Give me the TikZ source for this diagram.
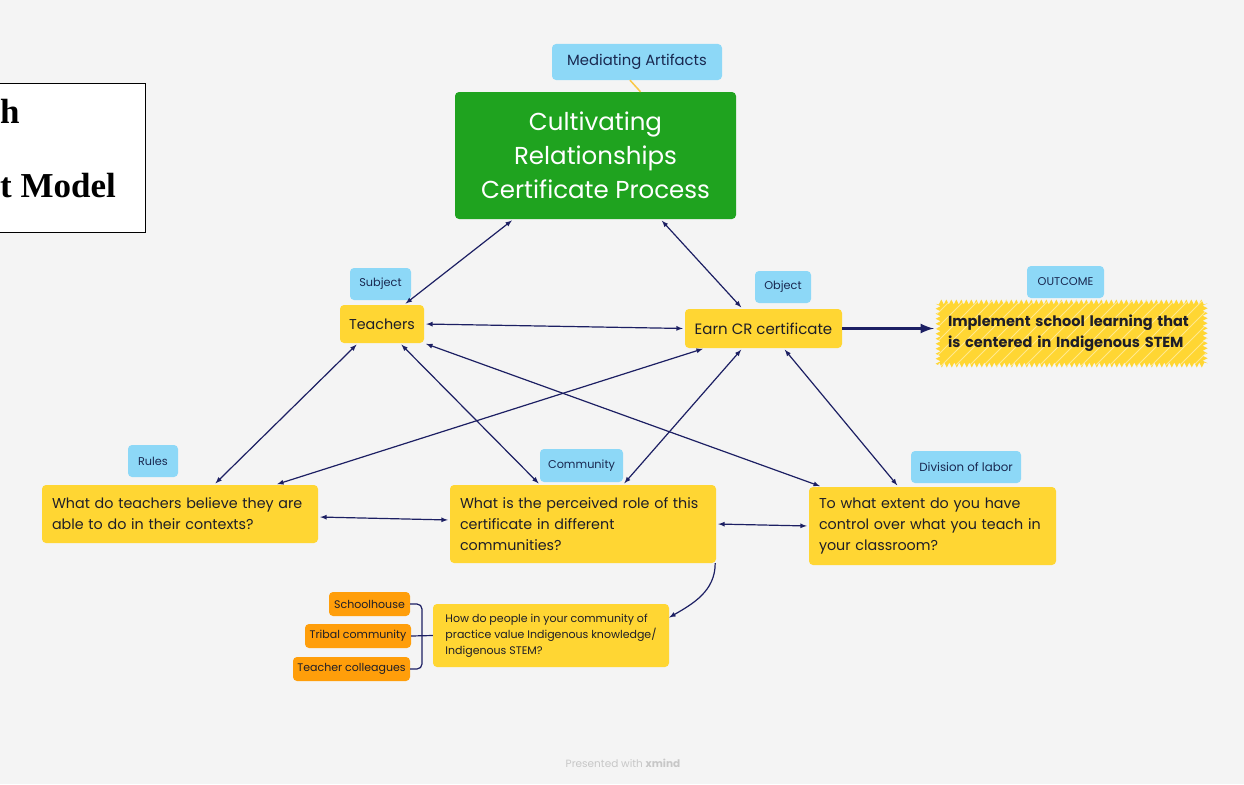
\documentclass[tikz,border=0pt]{standalone}
\usepackage{fontspec}
\setmainfont{Poppins}
\newfontfamily\timesfont{Liberation Serif}
\usepackage{tikz}
\usetikzlibrary{shapes,arrows,decorations.pathmorphing}
\definecolor{bggray}{RGB}{244,244,244}
\definecolor{topicyellow}{RGB}{255,214,51}
\definecolor{tagblue}{RGB}{141,216,247}
\definecolor{branchorange}{RGB}{255,158,10}
\definecolor{coregreen}{RGB}{31,163,31}
\definecolor{linknavy}{RGB}{28,31,99}
\definecolor{ink}{RGB}{30,30,40}
\definecolor{tagink}{RGB}{25,40,80}
\definecolor{medline}{RGB}{250,200,70}
\tikzset{
	tag/.style      = {fill=tagblue, rounded corners=4pt, text=tagink,
		font=\fontsize{11.3}{13}\selectfont},
	core/.style     = {fill=coregreen, rounded corners=4pt, text=white,
		align=center, font=\fontsize{24.5}{34}\selectfont},
	topic/.style    = {fill=topicyellow, rounded corners=4pt, text=ink,
		font=\fontsize{14.7}{18}\selectfont},
	question/.style = {topic, align=left, inner xsep=10pt,
		font=\fontsize{14.3}{21}\selectfont},
	branch/.style   = {fill=branchorange, rounded corners=4pt, text=ink,
		minimum height=24pt, font=\fontsize{11}{13}\selectfont},
	link/.style     = {<->, draw=linknavy, line width=1.2pt,
		shorten >=2pt, shorten <=2pt},
	wire/.style     = {draw=linknavy, line width=1.2pt}
}
\newcommand{\subsize}{\fontsize{11}{16}\selectfont}

\begin{document}
\begin{tikzpicture}[auto, x=1pt, y=-1pt, >=latex]
	\useasboundingbox (0,0) rectangle (1244,784);
	\clip (0,0) rectangle (1244,784);
	\fill[bggray] (0,0) rectangle (1244,784);
	
	% cut-off title box
	\draw[fill=white, line width=1pt] (-5,83) rectangle (145,232);
	\node[anchor=base west, inner sep=0pt, font=\timesfont\bfseries\fontsize{35}{40}\selectfont] (ttl1) at (0,123) {h};
	\node[anchor=base west, inner sep=0pt, font=\timesfont\bfseries\fontsize{35}{40}\selectfont] (ttl2) at (0,197) {t Model};
	
	% top
	\node at (637,62) [tag, minimum width=170pt, minimum height=36pt, font=\fontsize{14.8}{16}\selectfont] (med) {Mediating Artifacts};
	\node at (595.5,155.5) [core, minimum width=281pt, minimum height=127pt] (cult) {Cultivating\\Relationships\\Certificate Process};
	\draw[medline, line width=1.5pt] ([xshift=-7pt]med.south) -- ([xshift=45pt]cult.north);
	
	% subject, object, outcome
	\node at (380.5,284) [tag, minimum width=61pt, minimum height=32pt] (subj) {Subject};
	\node at (382,324) [topic, minimum width=84pt, minimum height=38pt, font=\fontsize{14.3}{18}\selectfont] (teach) {Teachers};
	\node at (783,287) [tag, minimum width=56pt, minimum height=32pt] (obj) {Object};
	\node at (763.5,328.5) [topic, minimum width=157pt, minimum height=39pt, font=\fontsize{15}{18}\selectfont] (earn) {Earn CR certificate};
	\node at (1065.5,282) [tag, minimum width=77pt, minimum height=32pt] (outc) {OUTCOME};
	\node at (1071.5,333.5) [fill=topicyellow, decorate, decoration={zigzag, segment length=5pt, amplitude=2.5pt},
		text=ink, align=left, inner xsep=10pt, text width=247pt, minimum height=63pt,
		font=\bfseries\fontsize{14.5}{21}\selectfont,
		path picture={\foreach \k in {-80,-66,...,280}
			\draw[white, opacity=0.45, line width=0.8pt] ([xshift=\k pt]path picture bounding box.south west) -- ++(70pt,70pt);}] (impl)
		{Implement school learning that\\is centered in Indigenous STEM};
	
	% rules, community, division of labor
	\node at (153,461) [tag, minimum width=50pt, minimum height=32pt] (rules) {Rules};
	\node at (180,514) [question, text width=256pt, minimum height=58pt] (rq) {What do teachers believe they are\\able to do in their contexts?};
	\node at (581.5,465.5) [tag, minimum width=83pt, minimum height=33pt] (comm) {Community};
	\node at (583,524) [question, text width=246pt, minimum height=78pt] (cq) {What is the perceived role of this\\certificate in different\\communities?};
	\node at (966,467) [tag, minimum width=110pt, minimum height=32pt, font=\fontsize{11.8}{13}\selectfont] (div) {Division of labor};
	\node at (932.5,526) [question, text width=227pt, minimum height=78pt] (dq) {To what extent do you have\\control over what you teach in\\your classroom?};
	
	% community branch
	\node at (551,635.5) [topic, align=left, minimum width=236pt, minimum height=63pt, font=\subsize] (sq) {How do people in your community of\\practice value Indigenous knowledge/\\Indigenous STEM?};
	\node at (369.5,604) [branch, minimum width=81pt] (sch) {Schoolhouse};
	\node at (358,636) [branch, minimum width=106pt] (trib) {Tribal community};
	\node at (351.5,669) [branch, minimum width=117pt] (tcol) {Teacher colleagues};
	
	% links
	\draw[link] ([xshift=-82pt]cult.south) -- ([xshift=22pt]teach.north);
	\draw[link] ([xshift=65pt]cult.south) -- ([xshift=-21pt]earn.north);
	\draw[link] (teach.east) -- (earn.west);
	\draw[link] ([xshift=-24pt]teach.south) -- ([xshift=34pt]rq.north);
	\draw[link] ([xshift=18pt]teach.south) -- ([xshift=-43pt]cq.north);
	\draw[link] (teach.south east) -- ([xshift=13pt]dq.north west);
	\draw[link] ([xshift=20pt]earn.south west) -- ([xshift=-43pt]rq.north east);
	\draw[link] ([xshift=-21pt]earn.south) -- ([xshift=40pt]cq.north);
	\draw[link] ([xshift=20pt]earn.south) -- ([xshift=-34pt]dq.north);
	\draw[link] ([yshift=-3pt]rq.east) -- ([yshift=4pt]cq.west);
	\draw[link] (cq.east) -- (dq.west);
	\draw[->, draw=linknavy, line width=3.5pt, shorten >=4pt] (earn.east) -- (earn.east -| impl.west);
	
	\draw[->, wire] ([xshift=-1pt]cq.south east) to[out=-90, in=30] ([yshift=18pt]sq.east);
	\coordinate (brk) at (422,636);
	\draw[wire, rounded corners=5pt] (sch.east) -| (brk) |- (tcol.east);
	\draw[wire] (trib.east) -- (sq.west);
	
	\node at (623,763) [text=black!22, font=\fontsize{10.5}{12}\selectfont] (pres) {Presented with \textbf{xmind}};
\end{tikzpicture}
\end{document}
